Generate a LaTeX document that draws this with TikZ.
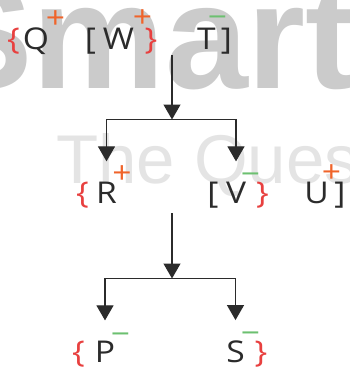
\documentclass[tikz,border=0pt]{standalone}
\usepackage{fontspec}
\setmainfont{Open Sans}[FakeStretch=1.12]
\newfontfamily\wmfont{Liberation Sans}
\usetikzlibrary{arrows.meta}
\definecolor{ink}{HTML}{2B2B2B}
\definecolor{bred}{HTML}{E8403F}
\definecolor{porange}{HTML}{F0642A}
\definecolor{mgreen}{HTML}{6CC070}
\definecolor{wmdark}{HTML}{CBCBCB}
\definecolor{wmlight}{HTML}{E4E4E4}
\tikzset{
  lt/.style={inner sep=0pt, anchor=base, text=ink, font=\fontsize{30}{36}\selectfont},
  br/.style={lt, text=bred},
  pl/.style={lt, text=porange},
  mn/.style={lt, text=mgreen},
  arr/.style={draw=ink, line width=1.2pt, -{Triangle[width=17pt,length=15pt]}},
  bar/.style={draw=ink, line width=1.2pt},
}
\begin{document}
\begin{tikzpicture}[x=1pt,y=-1pt]
\useasboundingbox (0,0) rectangle (349,369);
\clip (0,0) rectangle (349,369);
\fill[white] (0,0) rectangle (349,369);
% watermark
\node[anchor=base west, inner sep=0pt, text=wmdark] (wm1) at (-67,88)
  {\wmfont\bfseries\fontsize{149}{160}\selectfont Smart};
\node[anchor=base west, inner sep=0pt, text=wmlight] (wm2) at (56,183)
  {\wmfont\fontsize{69}{80}\selectfont The Ques};
% row 1
\node[br] (ob1) at (13.5,50) {\{};
\node[lt] (Q) at (36,50) {Q};
\node[pl] (Qs) at (55.5,28.5) {+};
\node[lt] (sb1) at (90.5,50) {[};
\node[lt] (W) at (118.5,50) {W};
\node[pl] (Ws) at (142.5,27.5) {+};
\node[br] (cb1) at (151,50) {\}};
\node[lt] (T) at (206.5,50) {T};
\node[mn] (Ts) at (217.5,27.5) {−};
\node[lt] (se1) at (226.5,50) {]};
% row 2
\node[br] (ob2) at (82.5,203) {\{};
\node[lt] (R) at (106.5,203) {R};
\node[pl] (Rs) at (122,183.5) {+};
\node[lt] (sb2) at (213,203) {[};
\node[lt] (V) at (236,203) {V};
\node[mn] (Vs) at (250.5,184.5) {−};
\node[br] (cb2) at (262.5,203) {\}};
\node[lt] (U) at (316.5,203) {U};
\node[pl] (Us) at (331.5,182.5) {+};
\node[lt] (se2) at (340,203) {]};
% row 3
\node[br] (ob3) at (78.5,362) {\{};
\node[lt] (P) at (105,362) {P};
\node[mn] (Ps) at (120.5,344.5) {−};
\node[lt] (S) at (235.5,362) {S};
\node[mn] (Ss) at (250.5,343.5) {−};
\node[br] (cb3) at (261,362) {\}};
% connectors
\coordinate (top1) at (172,55);
\coordinate (j1) at (172,119.5);
\coordinate (top2) at (172,213);
\coordinate (j2) at (172,278.5);
\draw[arr] (top1) -- (j1);
\draw[arr, shorten >=20pt] (j1) -| (R.north);
\draw[arr, shorten >=20pt] (j1) -| (V.north);
\draw[arr] (top2) -- (j2);
\draw[arr, shorten >=20pt] (j2) -| (P.north);
\draw[arr, shorten >=20pt] (j2) -| (S.north);
\end{tikzpicture}
\end{document}
